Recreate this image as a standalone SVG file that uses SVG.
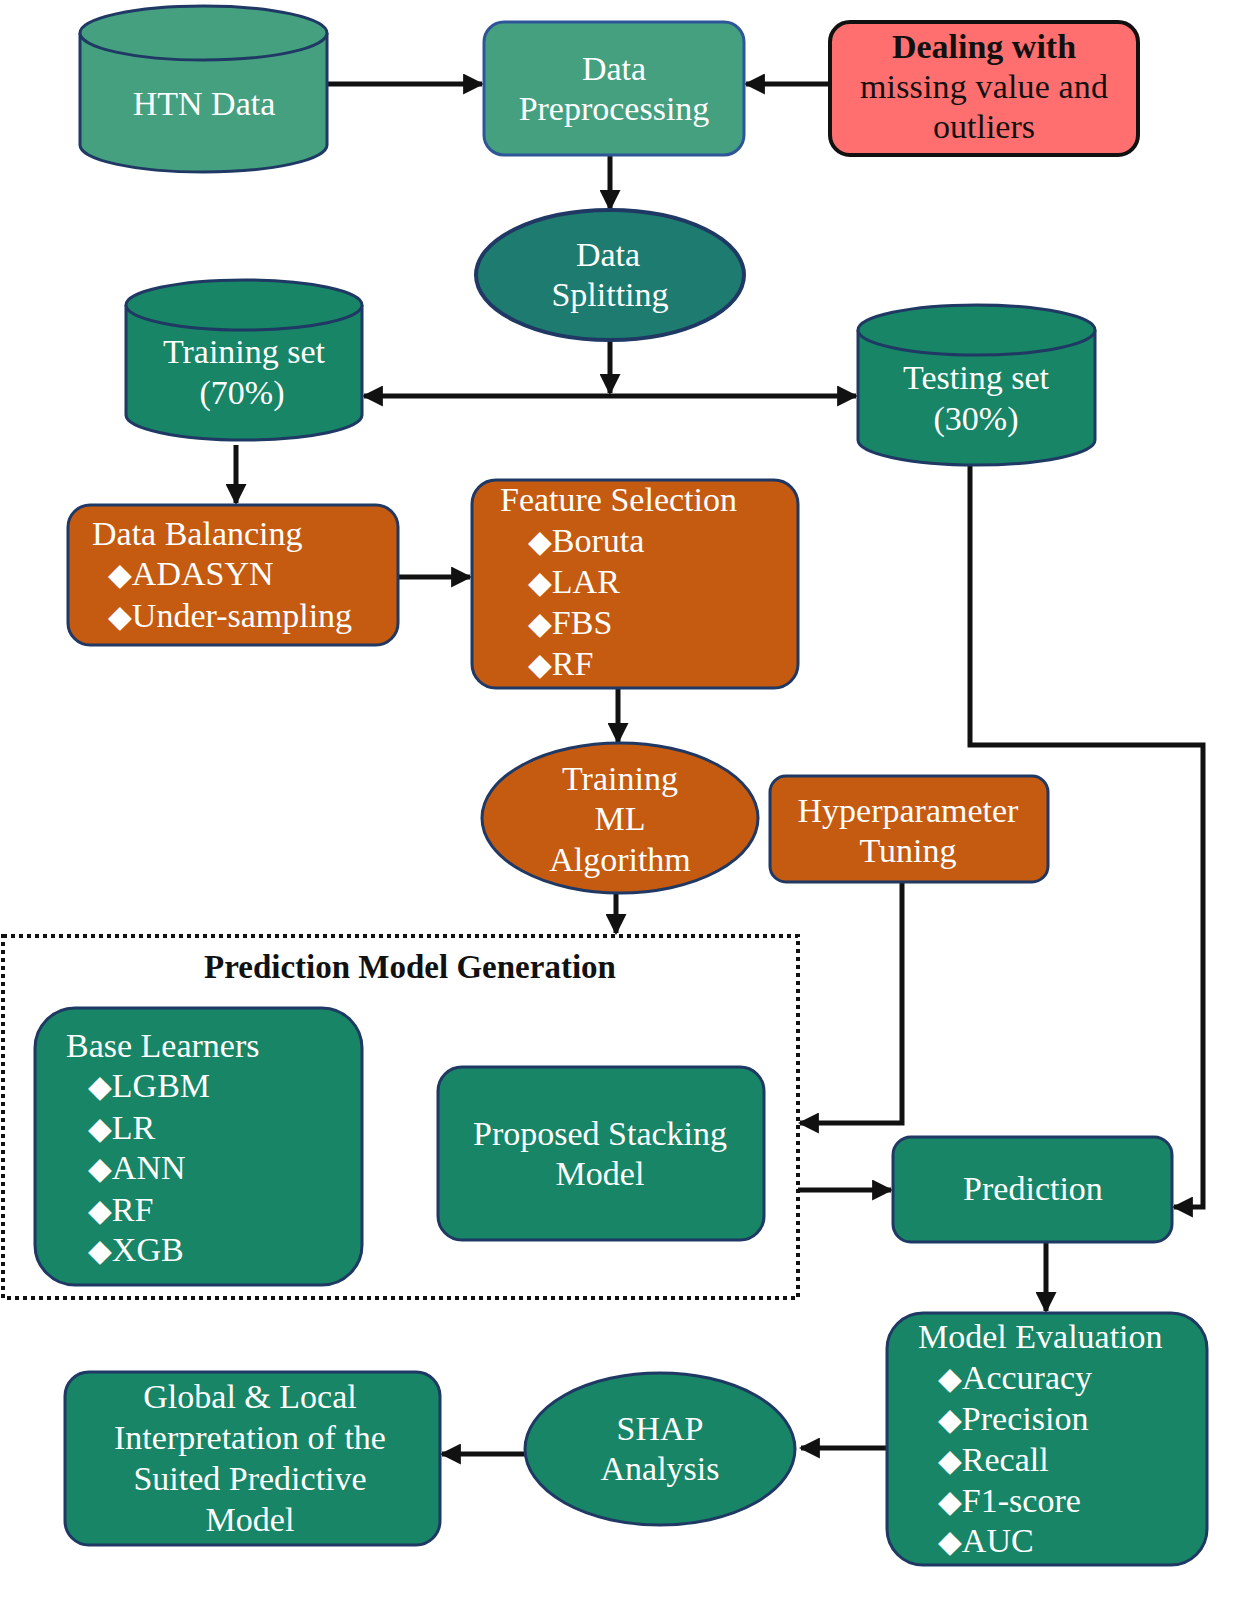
<svg xmlns="http://www.w3.org/2000/svg" width="1233" height="1600" viewBox="0 0 1233 1600">
<defs>
<marker id="ah" viewBox="0 0 10 10" refX="9" refY="5" markerWidth="4.2" markerHeight="4.2" markerUnits="strokeWidth" orient="auto-start-reverse">
<path d="M0,0 L10,5 L0,10 z" fill="#111"/>
</marker>
<style>
text{font-family:"Liberation Serif","Times New Roman",serif;font-size:34px;fill:#fff}
.c{text-anchor:middle}
.dk{fill:#111}
.b{font-weight:bold}
.g1{fill:#45a080;stroke:#1f3864;stroke-width:3}
.g2{fill:#1e7b70;stroke:#1f3864;stroke-width:4}
.g3{fill:#178566;stroke:#1f3864;stroke-width:3}
.or{fill:#c55a11;stroke:#1f3864;stroke-width:3}
.pk{fill:#ff6f6f;stroke:#111;stroke-width:4}
.cn{fill:none;stroke:#111;stroke-width:5}
.dm{font-family:"DejaVu Sans",sans-serif;font-size:31px}
</style>
</defs>
<rect width="1233" height="1600" fill="#fff"/>

<g id="connectors">
<line class="cn" x1="327" y1="84" x2="482" y2="84" marker-end="url(#ah)"/>
<line class="cn" x1="830" y1="84" x2="746" y2="84" marker-end="url(#ah)"/>
<line class="cn" x1="610" y1="156" x2="610" y2="209" marker-end="url(#ah)"/>
<line class="cn" x1="610" y1="341" x2="610" y2="393" marker-end="url(#ah)"/>
<line class="cn" x1="364" y1="396" x2="856" y2="396" marker-start="url(#ah)" marker-end="url(#ah)"/>
<line class="cn" x1="236" y1="445" x2="236" y2="503" marker-end="url(#ah)"/>
<line class="cn" x1="398" y1="577" x2="470" y2="577" marker-end="url(#ah)"/>
<line class="cn" x1="618" y1="689" x2="618" y2="742" marker-end="url(#ah)"/>
<line class="cn" x1="616" y1="894" x2="616" y2="933" marker-end="url(#ah)"/>
<polyline class="cn" points="902,882 902,1123 800,1123" marker-end="url(#ah)"/>
<polyline class="cn" points="970,466 970,745 1203,745 1203,1207 1174,1207" marker-end="url(#ah)"/>
<line class="cn" x1="798" y1="1190" x2="891" y2="1190" marker-end="url(#ah)"/>
<line class="cn" x1="1046" y1="1243" x2="1046" y2="1311" marker-end="url(#ah)"/>
<line class="cn" x1="887" y1="1448" x2="801" y2="1448" marker-end="url(#ah)"/>
<line class="cn" x1="526" y1="1454" x2="442" y2="1454" marker-end="url(#ah)"/>
</g>

<g id="htn-data">
<path class="g1" d="M80,33 V145 A123.5,27 0 0 0 327,145 V33"/>
<ellipse class="g1" cx="203.5" cy="33" rx="123.5" ry="27"/>
<text class="c" x="204" y="115">HTN Data</text>
</g>

<g id="data-preprocessing">
<rect x="484" y="22" width="260" height="133" rx="20" class="g1" style="stroke:#2e5597"/>
<text class="c" x="614" y="80">Data</text>
<text class="c" x="614" y="120">Preprocessing</text>
</g>

<g id="dealing-missing">
<rect x="830" y="22" width="308" height="133" rx="20" class="pk"/>
<text class="c dk b" x="984" y="58">Dealing with</text>
<text class="c dk" x="984" y="98" textLength="248" lengthAdjust="spacing">missing value and</text>
<text class="c dk" x="984" y="138">outliers</text>
</g>

<g id="data-splitting">
<ellipse class="g2" cx="610" cy="275" rx="134" ry="65"/>
<text class="c" x="608" y="266">Data</text>
<text class="c" x="610" y="306">Splitting</text>
</g>

<g id="training-set">
<path class="g3" d="M126,305 V415 A118,25 0 0 0 362,415 V305"/>
<ellipse class="g3" cx="244" cy="305" rx="118" ry="25"/>
<text class="c" x="244" y="363">Training set</text>
<text class="c" x="242" y="404">(70%)</text>
</g>

<g id="testing-set">
<path class="g3" d="M858,330 V440 A118.5,25 0 0 0 1095,440 V330"/>
<ellipse class="g3" cx="976.5" cy="330" rx="118.5" ry="25"/>
<text class="c" x="976" y="389">Testing set</text>
<text class="c" x="976" y="430">(30%)</text>
</g>

<g id="data-balancing">
<rect x="68" y="505" width="330" height="140" rx="22" class="or"/>
<text x="92" y="545">Data Balancing</text>
<text x="108" y="585"><tspan class="dm">◆</tspan>ADASYN</text>
<text x="108" y="627"><tspan class="dm">◆</tspan>Under-sampling</text>
</g>

<g id="feature-selection">
<rect x="472" y="480" width="326" height="208" rx="24" class="or"/>
<text x="500" y="511">Feature Selection</text>
<text x="528" y="552"><tspan class="dm">◆</tspan>Boruta</text>
<text x="528" y="593"><tspan class="dm">◆</tspan>LAR</text>
<text x="528" y="634"><tspan class="dm">◆</tspan>FBS</text>
<text x="528" y="675"><tspan class="dm">◆</tspan>RF</text>
</g>

<g id="training-ml">
<ellipse class="or" cx="620" cy="818" rx="138" ry="75"/>
<text class="c" x="620" y="790">Training</text>
<text class="c" x="620" y="830">ML</text>
<text class="c" x="620" y="871">Algorithm</text>
</g>

<g id="hyperparameter-tuning">
<rect x="770" y="776" width="278" height="106" rx="16" class="or"/>
<text class="c" x="908" y="822">Hyperparameter</text>
<text class="c" x="908" y="862">Tuning</text>
</g>

<g id="prediction-model-generation">
<rect x="3" y="936" width="795" height="362" fill="none" stroke="#111" stroke-width="4" stroke-dasharray="4,4"/>
<text class="c dk b" x="410" y="978" style="font-size:33px">Prediction Model Generation</text>
</g>

<g id="base-learners">
<rect x="35" y="1008" width="327" height="277" rx="40" class="g3"/>
<text x="66" y="1057">Base Learners</text>
<text x="88" y="1097"><tspan class="dm">◆</tspan>LGBM</text>
<text x="88" y="1139"><tspan class="dm">◆</tspan>LR</text>
<text x="88" y="1179"><tspan class="dm">◆</tspan>ANN</text>
<text x="88" y="1221"><tspan class="dm">◆</tspan>RF</text>
<text x="88" y="1261"><tspan class="dm">◆</tspan>XGB</text>
</g>

<g id="proposed-stacking">
<rect x="438" y="1067" width="326" height="173" rx="24" class="g3"/>
<text class="c" x="600" y="1145">Proposed Stacking</text>
<text class="c" x="600" y="1185">Model</text>
</g>

<g id="prediction">
<rect x="893" y="1137" width="279" height="105" rx="18" class="g3"/>
<text class="c" x="1033" y="1200">Prediction</text>
</g>

<g id="model-evaluation">
<rect x="887" y="1313" width="320" height="252" rx="36" class="g3"/>
<text x="918" y="1348">Model Evaluation</text>
<text x="938" y="1389"><tspan class="dm">◆</tspan>Accuracy</text>
<text x="938" y="1430"><tspan class="dm">◆</tspan>Precision</text>
<text x="938" y="1471"><tspan class="dm">◆</tspan>Recall</text>
<text x="938" y="1512"><tspan class="dm">◆</tspan>F1-score</text>
<text x="938" y="1552"><tspan class="dm">◆</tspan>AUC</text>
</g>

<g id="shap-analysis">
<ellipse class="g3" cx="660" cy="1449" rx="135" ry="76"/>
<text class="c" x="660" y="1440">SHAP</text>
<text class="c" x="660" y="1480">Analysis</text>
</g>

<g id="global-local">
<rect x="65" y="1372" width="375" height="173" rx="24" class="g3"/>
<text class="c" x="250" y="1408">Global &amp; Local</text>
<text class="c" x="250" y="1449">Interpretation of the</text>
<text class="c" x="250" y="1490">Suited Predictive</text>
<text class="c" x="250" y="1531">Model</text>
</g>
</svg>
